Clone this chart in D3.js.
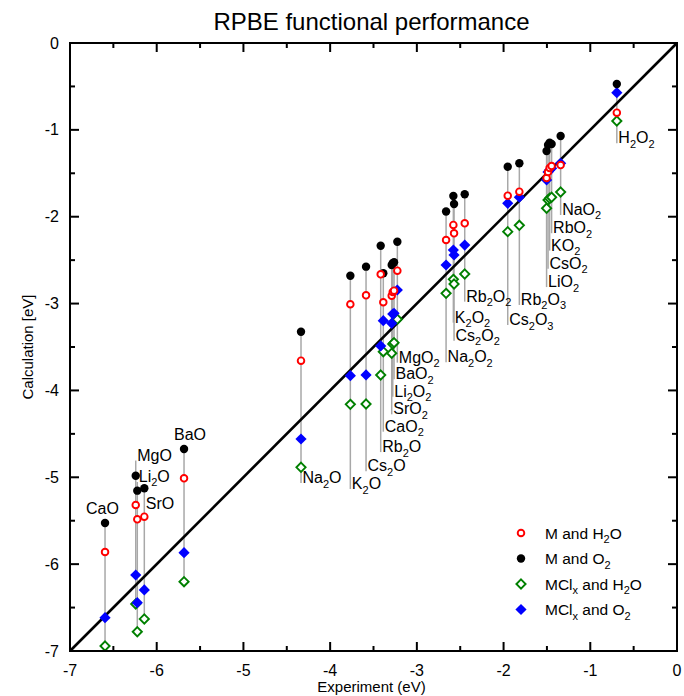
<!DOCTYPE html>
<html><head><meta charset="utf-8">
<script src="https://cdn.jsdelivr.net/npm/d3@7"></script>
<style>body{margin:0;background:#fff}svg{display:block}text{font-family:"Liberation Sans",Arial,sans-serif;fill:#000}</style>
</head><body><svg id="c" width="684" height="696"></svg>
<script>
// ---- data ----
const compounds = ["CaO","MgO","Li_2O","SrO","BaO","Na_2O","K_2O","Cs_2O","Rb_2O","CaO_2","SrO_2","Li_2O_2","BaO_2","MgO_2","Na_2O_2","K_2O_2","Cs_2O_2","Rb_2O_2","Cs_2O_3","Rb_2O_3","LiO_2","CsO_2","KO_2","RbO_2","NaO_2","H_2O_2"];
const experiment = [-6.596,-6.242,-6.224,-6.143,-5.685,-4.336,-3.767,-3.586,-3.417,-3.387,-3.290,-3.278,-3.263,-3.225,-2.663,-2.579,-2.571,-2.448,-1.952,-1.818,-1.504,-1.487,-1.469,-1.446,-1.342,-0.694];
const mH2O   = [-5.860,-5.319,-5.484,-5.454,-5.012,-3.658,-3.008,-2.905,-2.663,-2.985,-2.909,-2.867,-2.852,-2.621,-2.268,-2.095,-2.191,-2.076,-1.758,-1.712,-1.554,-1.485,-1.439,-1.416,-1.405,-0.802];
const mO2    = [-5.526,-4.982,-5.154,-5.127,-4.674,-3.324,-2.679,-2.575,-2.334,-2.651,-2.556,-2.536,-2.525,-2.288,-1.940,-1.761,-1.853,-1.742,-1.424,-1.385,-1.243,-1.174,-1.148,-1.163,-1.071,-0.472];
const mclH2O = [-6.942,-6.459,-6.778,-6.631,-6.202,-4.885,-4.160,-4.156,-3.822,-3.554,-3.572,-3.465,-3.450,-3.181,-2.882,-2.721,-2.775,-2.660,-2.172,-2.099,-1.903,-1.808,-1.788,-1.776,-1.715,-0.898];
const mclO2  = [-6.616,-6.125,-6.444,-6.297,-5.868,-4.559,-3.830,-3.822,-3.488,-3.197,-3.227,-3.120,-3.112,-2.844,-2.556,-2.383,-2.441,-2.326,-1.846,-1.776,-1.577,-1.485,-1.462,-1.443,-1.385,-0.572];
// calculated-axis level where each compound's label sits
const labelLevel = [-5.42,-4.807,-5.054,-5.365,-4.57,-5.066,-5.135,-4.93,-4.71,-4.475,-4.275,-4.072,-3.872,-3.68,-3.676,-3.22,-3.427,-2.978,-3.247,-3.016,-2.81,-2.60,-2.39,-2.19,-1.98,-1.155];
const labelAbove = ["CaO","BaO"];
const seriesNames = ["M and H_2O","M and O_2","MCl_x and H_2O","MCl_x and O_2"];
const ticks = [-7,-6,-5,-4,-3,-2,-1,0];
const title = "RPBE functional performance";
const xTitle = "Experiment (eV)";
const yTitle = "Calculation [eV]";

// ---- layout ----
const svg = d3.select("#c");
const L=70, R=677, T=43, B=651;
const x = d3.scaleLinear().domain([-7,0]).range([L,R]);
const y = d3.scaleLinear().domain([-7,0]).range([B,T]);
const aboveShift = {CaO:-19, BaO:-10};

function formula(sel, str, subSize){
  sel.text(null);
  const parts = [];
  for (let i=0;i<str.length;i++){
    if (str[i]==="_"){ parts.push({t:str[i+1],sub:true}); i++; }
    else { if(parts.length && !parts[parts.length-1].sub) parts[parts.length-1].t+=str[i]; else parts.push({t:str[i],sub:false}); }
  }
  let shifted=false;
  parts.forEach(p=>{
    const ts = sel.append("tspan").text(p.t);
    if (p.sub && !shifted){ ts.attr("dy",4.5).attr("font-size",subSize); shifted=true; }
    else if (p.sub){ ts.attr("font-size",subSize); }
    else if (!p.sub && shifted){ ts.attr("dy",-4.5); shifted=false; }
  });
}

// title
svg.append("text").attr("x",(L+R)/2-2).attr("y",30).attr("text-anchor","middle")
  .attr("font-size",24).text(title);

const data = compounds.map((c,i)=>({c,e:experiment[i],v:[mH2O[i],mO2[i],mclH2O[i],mclO2[i]],lab:labelLevel[i]}));

// leader lines
const g = svg.append("g");
data.forEach(d=>{
  let vals = d.v.slice();
  if (!labelAbove.includes(d.c)) vals.push(d.lab);
  g.append("line").attr("x1",x(d.e)).attr("x2",x(d.e))
    .attr("y1",y(d3.max(vals))).attr("y2",y(d3.min(vals)))
    .attr("stroke","#a8a8a8").attr("stroke-width",1.5);
});

// diagonal
svg.append("line").attr("x1",x(-7)).attr("y1",y(-7)).attr("x2",x(0)).attr("y2",y(0))
  .attr("stroke","#000").attr("stroke-width",2.6);

// markers
const dia = (s)=>`M0,${-s}L${s},0L0,${s}L${-s},0Z`;
function marker(sel,k){
  if (k===0) sel.append("circle").attr("r",3.3).attr("fill","#fff").attr("stroke","#ff0000").attr("stroke-width",1.9);
  if (k===1) sel.append("circle").attr("r",4.2).attr("fill","#000");
  if (k===2) sel.append("path").attr("d",dia(4.6)).attr("fill","#fff").attr("stroke","#008000").attr("stroke-width",1.9);
  if (k===3) sel.append("path").attr("d",dia(5.6)).attr("fill","#0000ff");
}
[2,3,1,0].forEach(k=>{
  data.forEach(d=>{
    const m = svg.append("g").attr("transform",`translate(${x(d.e)},${y(d.v[k])})`);
    marker(m,k);
  });
});

// labels
data.forEach(d=>{
  const t = svg.append("text").attr("font-size",16);
  if (labelAbove.includes(d.c)){
    t.attr("x",x(d.e)+aboveShift[d.c]).attr("y",y(d.lab));
  } else {
    t.attr("x",x(d.e)+1.5).attr("y",y(d.lab));
  }
  formula(t,d.c,11);
});

// frame
svg.append("rect").attr("x",L).attr("y",T).attr("width",R-L).attr("height",B-T)
  .attr("fill","none").attr("stroke","#000").attr("stroke-width",2);

// ticks (inward, all four sides)
const minor = d3.range(-6.5,0,1);
const tk = svg.append("g").attr("stroke","#000").attr("stroke-width",2);
ticks.concat(minor).forEach(v=>{
  const len = Number.isInteger(v) ? 9 : 5;
  tk.append("line").attr("x1",x(v)).attr("x2",x(v)).attr("y1",B).attr("y2",B-len);
  tk.append("line").attr("x1",x(v)).attr("x2",x(v)).attr("y1",T).attr("y2",T+len);
  tk.append("line").attr("y1",y(v)).attr("y2",y(v)).attr("x1",L).attr("x2",L+len);
  tk.append("line").attr("y1",y(v)).attr("y2",y(v)).attr("x1",R).attr("x2",R-len);
});
ticks.forEach(v=>{
  svg.append("text").attr("x",x(v)).attr("y",B+25).attr("text-anchor","middle").attr("font-size",16).text(String(v));
  svg.append("text").attr("x",L-11).attr("y",y(v)).attr("dy","0.35em").attr("text-anchor","end").attr("font-size",16).text(String(v));
});
svg.append("text").attr("x",(L+R)/2-2).attr("y",B+41).attr("text-anchor","middle").attr("font-size",15).text(xTitle);
svg.append("text").attr("transform",`translate(${L-37},${(T+B)/2}) rotate(-90)`).attr("text-anchor","middle").attr("font-size",15).text(yTitle);

// legend
const lg = svg.append("g").attr("transform","translate(521,533)");
seriesNames.forEach((s,k)=>{
  const row = lg.append("g").attr("transform",`translate(0,${k*25.5})`);
  marker(row,k);
  const t = row.append("text").attr("x",24).attr("y",5.5).attr("font-size",15.5);
  formula(t,s,11);
});
</script></body></html>
